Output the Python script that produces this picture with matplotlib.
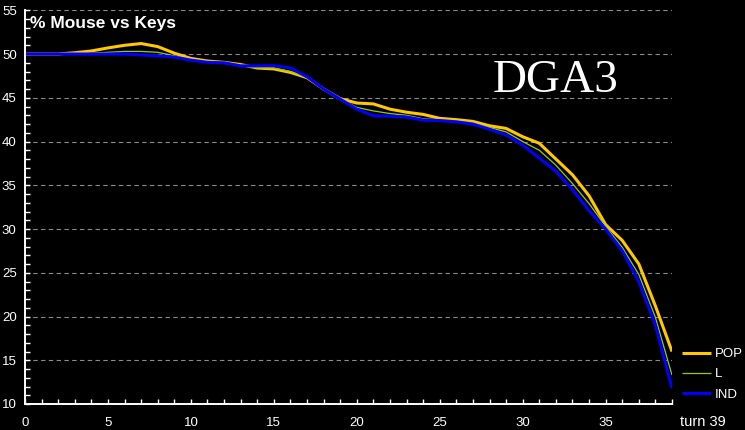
import matplotlib
matplotlib.use("Agg")
import matplotlib.pyplot as plt
from matplotlib.ticker import MultipleLocator

turns = list(range(0, 40))
pop = [50.0, 50.0, 50.0, 50.15, 50.35, 50.7, 51.0, 51.2, 50.85, 50.1,
       49.5, 49.2, 49.05, 48.8, 48.4, 48.3, 47.9, 47.3, 46.0, 44.9,
       44.4, 44.3, 43.7, 43.35, 43.1, 42.65, 42.5, 42.3, 41.8, 41.5,
       40.55, 39.8, 38.0, 36.2, 33.8, 30.5, 28.7, 26.0, 21.2, 16.0]
lval = [50.0, 50.0, 50.0, 50.0, 50.1, 50.2, 50.3, 50.3, 50.2, 49.8,
        49.4, 49.1, 49.0, 48.7, 48.4, 48.4, 48.0, 47.3, 46.0, 44.9,
        43.9, 43.5, 43.2, 43.0, 42.6, 42.5, 42.35, 42.1, 41.6, 41.1,
        40.0, 39.0, 37.3, 35.2, 32.9, 30.3, 27.9, 24.8, 19.9, 13.3]
ind = [50.0, 50.0, 50.0, 50.0, 50.0, 50.0, 50.0, 49.9, 49.8, 49.65,
       49.3, 49.05, 49.0, 48.65, 48.65, 48.67, 48.4, 47.4, 46.0, 44.85,
       43.7, 42.95, 42.9, 42.8, 42.45, 42.4, 42.25, 42.0, 41.4, 40.75,
       39.6, 38.1, 36.6, 34.5, 32.1, 30.0, 27.5, 24.0, 19.0, 11.8]
series_names = ["POP", "L", "IND"]
colors = ["#FFC800", "#99CC00", "#0000FF"]
widths = [2.2, 0.9, 2.2]

W, H = 745, 430
fig = plt.figure(figsize=(W / 100, H / 100), dpi=100, facecolor="black")
ax = fig.add_axes([25 / W, (H - 404) / H, (672 - 25) / W, (404 - 10.3) / H])
ax.set_facecolor("black")

for vals, name, c, lw in zip([pop, lval, ind], series_names, colors, widths):
    ax.plot(turns, vals, color=c, lw=lw, label=name, solid_capstyle="butt")

ax.set_xlim(0, 39)
ax.set_ylim(10, 55)
ax.xaxis.set_major_locator(MultipleLocator(5))
ax.xaxis.set_minor_locator(MultipleLocator(1))
ax.yaxis.set_major_locator(MultipleLocator(5))
ax.yaxis.set_minor_locator(MultipleLocator(1))

for s in ["top", "right"]:
    ax.spines[s].set_visible(False)
for s in ["left", "bottom"]:
    ax.spines[s].set_color("white")
    ax.spines[s].set_linewidth(1.4)

ax.tick_params(which="both", direction="in", color="white", length=3.5, width=1,
               labelcolor="white", labelsize=9.5)
ax.tick_params(axis="y", which="major", pad=6)
ax.tick_params(axis="x", which="major", pad=9)
for lab in ax.get_xticklabels() + ax.get_yticklabels():
    lab.set_fontfamily("Liberation Sans")

ax.grid(axis="y", which="major", color="#8a8a8a", linestyle=(0, (4, 3)), linewidth=0.8)
ax.set_axisbelow(True)

fig.text(30 / W, (H - 28) / H, "% Mouse vs Keys", color="white", fontsize=12.5,
         fontweight="bold", family="Liberation Sans", va="baseline", ha="left")
fig.text(493 / W, (H - 92) / H, "DGA3", color="white", fontsize=34,
         family="Liberation Serif", va="baseline", ha="left")
fig.text(680 / W, (H - 426) / H, "turn 39", color="white", fontsize=10.5,
         family="Liberation Sans", va="baseline", ha="left")

leg = ax.legend(loc="upper left", bbox_to_anchor=(682 / W, (H - 348) / H),
                bbox_transform=fig.transFigure, frameon=False, borderpad=0,
                borderaxespad=0, handlelength=2.2, handletextpad=0.3,
                labelspacing=0.6, prop={"family": "Liberation Sans", "size": 9.5})
for t in leg.get_texts():
    t.set_color("white")

fig.savefig("out.png", dpi=100, facecolor="black")
